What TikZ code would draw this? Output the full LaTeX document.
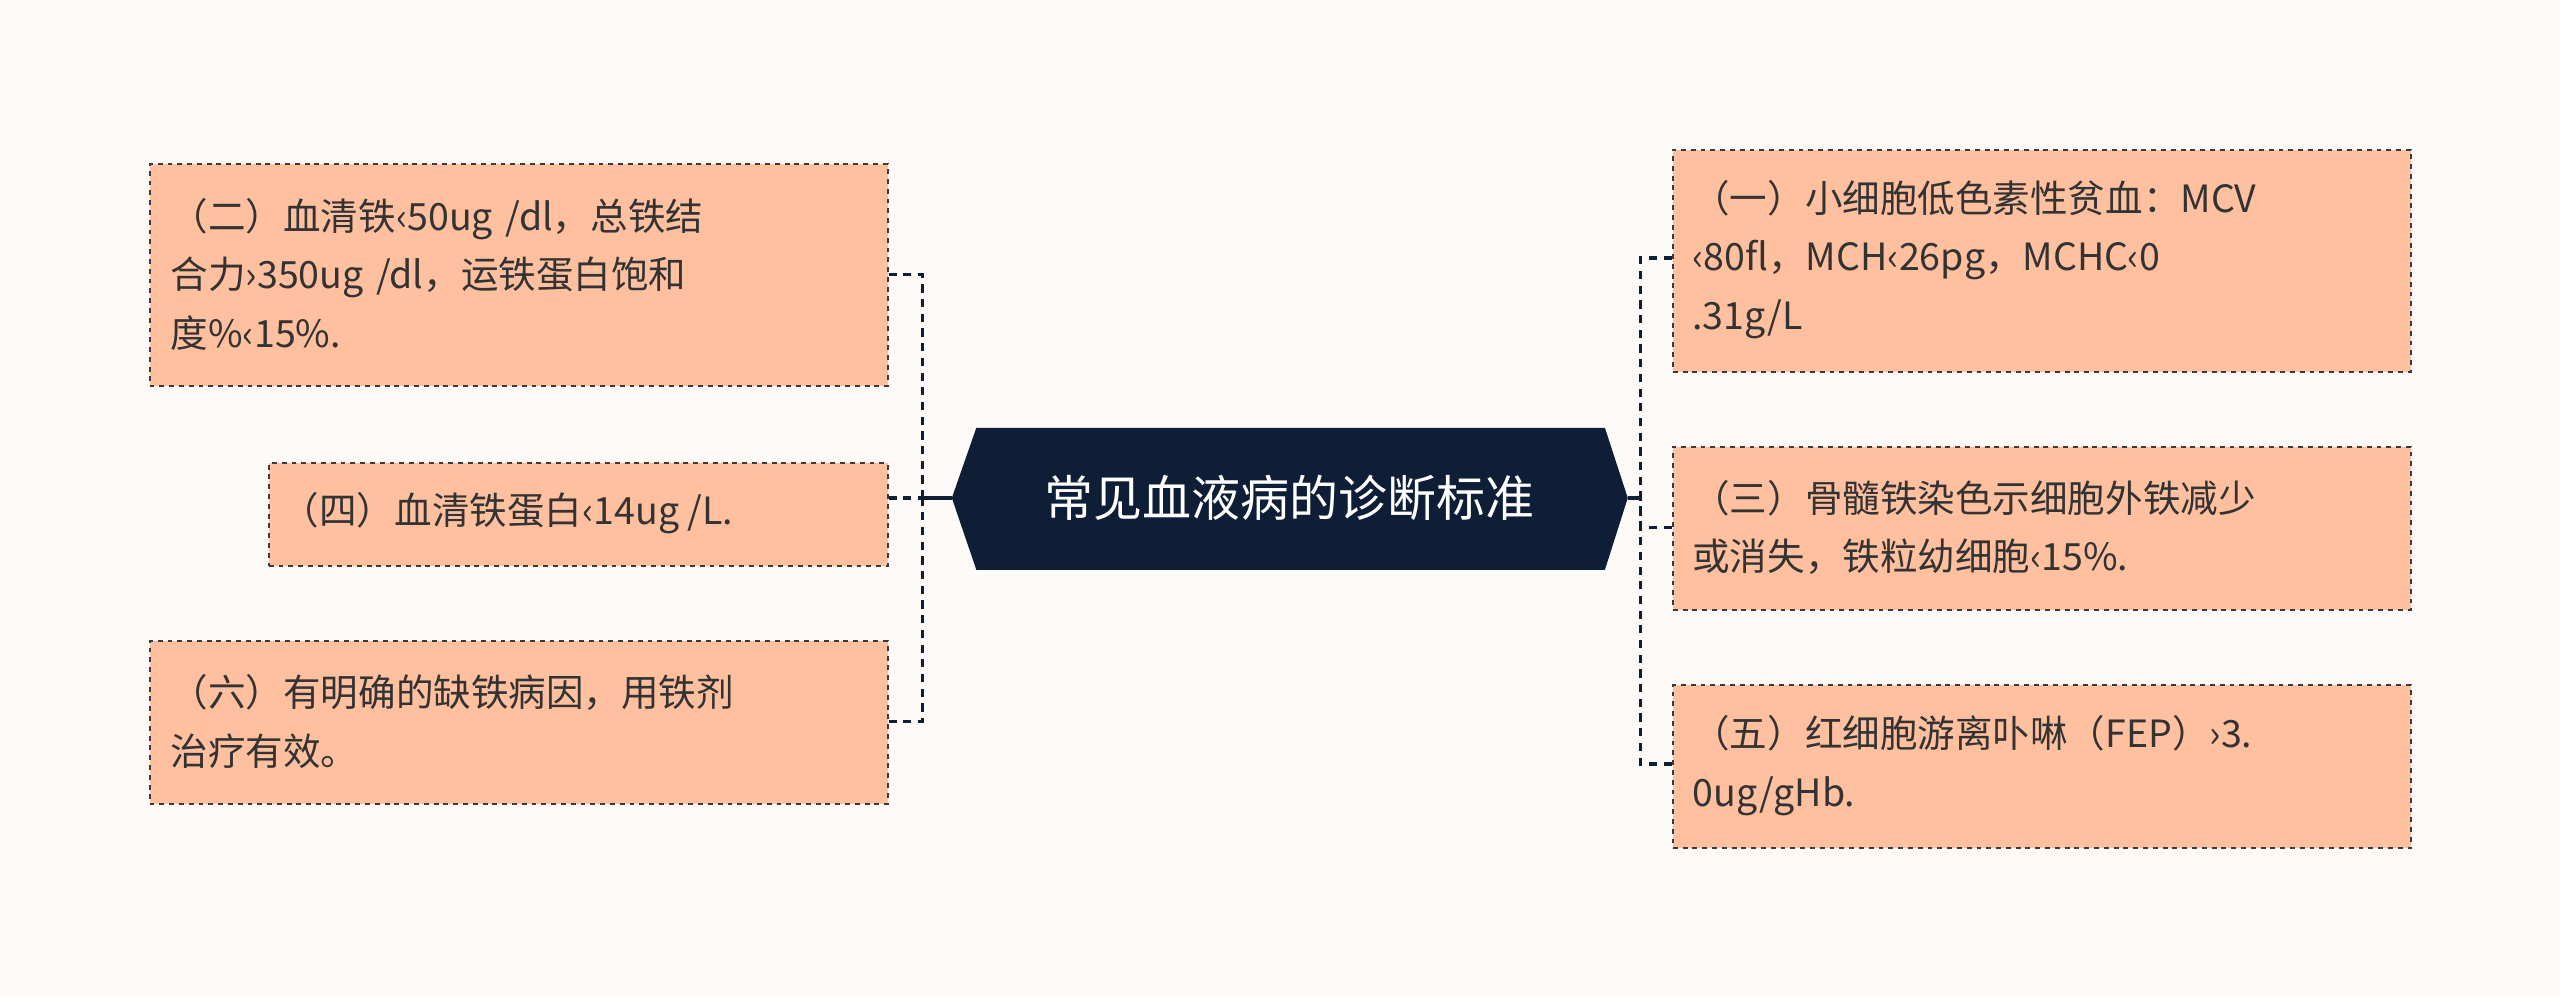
\documentclass[tikz,border=0pt]{standalone}
\usepackage{fontspec}
\newfontfamily\cjk{Noto Sans CJK SC}
\definecolor{bg}{HTML}{FDFAF8}
\definecolor{navy}{HTML}{0D1E36}
\definecolor{boxfill}{HTML}{FFC09F}
\definecolor{edge}{HTML}{3A3A3A}
\begin{document}
\begin{tikzpicture}[x=1pt,y=-1pt,
  leaf/.style={draw=edge,dashed,line width=1.2pt,fill=boxfill,inner sep=0pt,
     font=\cjk\fontsize{23}{36}\selectfont,text=black!80,align=left,anchor=north west},
  link/.style={draw=navy,dashed,line width=2pt,dash pattern=on 5pt off 4pt},
  stub/.style={draw=navy,line width=2pt}]
\fill[bg] (0,0) rectangle (1568,610);
\useasboundingbox (0,0) rectangle (1568,610);
% center
\fill[navy] (583,305)--(598,262)--(983,262)--(997,305)--(983,349)--(598,349)--cycle;
\node[text=white,font=\cjk\fontsize{30}{36}\selectfont] (c) at (790,305) {常见血液病的诊断标准};
\coordinate (cl) at (583,305); \coordinate (cr) at (997,305);
% boxes
\node[leaf,minimum width=452pt,minimum height=136pt] (l1) at (91,100) {};
\node[leaf,draw=none,fill=none,anchor=west,text width=430pt] at (104,168) {（二）血清铁‹50ug /dl，总铁结\\合力›350ug /dl，运铁蛋白饱和\\度\%‹15\%.};
\node[leaf,minimum width=379pt,minimum height=63pt] (l2) at (164,283) {};
\node[leaf,draw=none,fill=none,anchor=west] at (172,314) {（四）血清铁蛋白‹14ug /L.};
\node[leaf,minimum width=452pt,minimum height=100pt] (l3) at (91,392) {};
\node[leaf,draw=none,fill=none,anchor=west,text width=430pt] at (104,442) {（六）有明确的缺铁病因，用铁剂\\治疗有效。};
\node[leaf,minimum width=452pt,minimum height=136pt] (r1) at (1024,91) {};
\node[leaf,draw=none,fill=none,anchor=west,text width=440pt] at (1036,159) {（一）小细胞低色素性贫血：MCV\\‹80fl，MCH‹26pg，MCHC‹0\\.31g/L};
\node[leaf,minimum width=452pt,minimum height=100pt] (r2) at (1024,273) {};
\node[leaf,draw=none,fill=none,anchor=west,text width=440pt] at (1036,323) {（三）骨髓铁染色示细胞外铁减少\\或消失，铁粒幼细胞‹15\%.};
\node[leaf,minimum width=452pt,minimum height=100pt] (r3) at (1024,419) {};
\node[leaf,draw=none,fill=none,anchor=west,text width=440pt] at (1036,469) {（五）红细胞游离卟啉（FEP）›3.\\0ug/gHb.};
% connectors
\coordinate (lj) at (565,305); \coordinate (rj) at (1005,305);
\draw[stub] (cl)--(lj); \draw[stub] (cr)--(rj);
\draw[link] (l1.east|-0,168) -| (lj);
\draw[link] (l2.east|-0,305) -- (lj);
\draw[link] (l3.east|-0,442) -| (lj);
\draw[link] (r1.west|-0,158) -| (rj);
\draw[link] (r2.west|-0,323) -| (rj);
\draw[link] (r3.west|-0,468) -| (rj);
\end{tikzpicture}
\end{document}
